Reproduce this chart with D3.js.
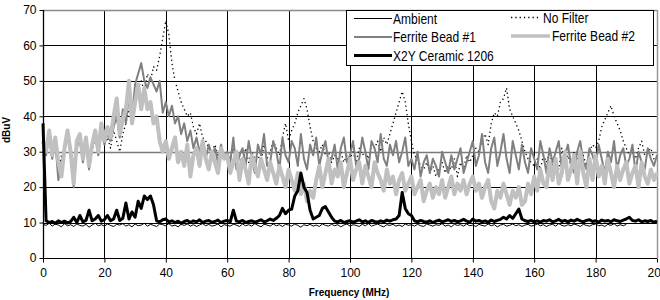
<!DOCTYPE html>
<html>
<head>
<meta charset="utf-8">
<script src="https://cdn.jsdelivr.net/npm/d3@7"></script>
<style>
  body { margin: 0; background: #fff; }
  svg text { font-family: Arial, "Liberation Sans", sans-serif; fill: #000; }
</style>
</head>
<body>
<svg id="chart" width="660" height="300"></svg>
<script>
"use strict";

// ==========  Data  ==========
// one sample per MHz, 0..200 MHz, levels in dBuV
var freqs = d3.range(0, 201)

var ambient = [
  9.5,9.2,9.8,9.0,9.6,9.3,8.8,9.7,9.1,9.4, 8.9,9.6,9.2,9.0,9.5,8.7,9.3,9.8,9.1,9.4,
  9.0,9.6,9.2,8.9,9.5,9.3,9.7,9.0,9.4,8.8, 9.6,9.1,9.3,9.8,9.0,9.5,9.2,8.9,9.6,9.4,
  9.1,9.7,9.0,9.3,8.8,9.5,9.2,9.6,9.0,9.4, 8.9,9.3,9.7,9.1,9.5,9.0,9.2,9.6,8.8,9.4,
  9.2,9.0,9.5,9.3,8.9,9.6,9.1,9.4,9.0,9.7, 9.2,8.8,9.5,9.3,9.0,9.6,9.1,9.4,8.9,9.5,
  9.3,9.0,9.6,9.2,8.7,9.4,9.1,9.5,9.0,9.3, 8.9,9.6,9.2,9.0,9.5,9.1,9.4,8.8,9.3,9.6,
  9.0,9.4,9.2,8.9,9.5,9.1,9.7,9.0,9.3,9.6, 9.1,8.8,9.4,9.2,9.5,9.0,9.3,8.9,9.6,9.2,
  9.4,9.0,9.5,9.1,8.9,9.6,9.3,9.0,9.4,9.2, 9.7,9.0,9.3,8.8,9.5,9.2,9.4,9.0,9.6,9.1,
  9.3,8.9,9.5,9.2,9.0,9.6,9.1,9.4,8.8,9.3, 9.5,9.0,9.2,9.6,9.1,9.4,8.9,9.3,9.5,9.0,
  9.2,9.6,9.1,9.4,8.9,9.3,9.5,9.0,9.7,9.2, 9.0,9.4,9.1,9.6,9.3,8.9,9.5,9.2,9.0,9.4,
  9.6,9.1,9.3,8.9,9.5,9.2,9.7,9.0,9.4,9.1, 9.5
]

var noFilter = [
  33,30,35,29,34,24,29,31,34,30, 22,32,33,28,32,26,30,34,31,35,
  32,34,31,36,33,30,35,38,42,40, 45,48,50,47,52,50,54,53,57,62,
  67,63,55,50,47,44,42,40,41,37, 35,38,34,33,31,30,32,29,31,28,
  30,28,31,27,29,26,31,27,30,28, 29,27,32,28,30,33,31,29,34,38,
  33,36,38,41,43,45,42,37,33,31, 30,32,29,30,27,29,28,30,27,29,
  28,30,27,31,29,30,28,32,31,33, 30,34,32,35,38,41,44,47,44,38,
  33,29,28,26,25,27,24,26,23,25, 27,24,26,25,28,23,27,25,29,27,
  29,31,30,33,35,32,38,41,40,44, 45,48,42,40,38,36,33,30,28,27,
  26,28,25,29,27,30,26,28,25,31, 27,29,26,30,28,27,29,26,30,32,
  31,33,37,39,41,43,40,38,36,33, 31,29,30,28,31,33,29,30,31,28, 29
]

var ferrite1 = [
  32,29,35,28,33,22,27,30,35,29, 20,31,34,27,33,25,31,35,29,36,
  32,35,33,37,40,34,42,38,46,40, 49,52,55,50,48,51,49,47,50,41,
  44,40,43,38,40,35,38,33,36,31, 34,30,33,28,32,29,31,27,32,28,
  30,27,34,25,29,31,26,33,28,24, 32,29,35,26,27,33,30,25,34,29,
  27,33,31,26,35,28,25,32,29,34, 26,30,33,27,28,32,25,31,34,27,
  29,33,26,28,34,30,25,33,31,27, 35,28,26,32,29,33,27,30,34,26,
  28,25,30,23,27,29,24,28,26,23, 30,27,24,29,25,28,31,24,27,30,
  33,26,29,35,27,24,31,34,26,30, 35,28,24,33,29,25,32,27,24,31,
  28,25,33,29,24,31,27,30,33,25, 29,32,26,24,30,33,27,25,31,29,
  26,32,28,24,30,27,33,25,29,31, 26,28,32,24,30,27,25,31,28,26, 29
]

var ferrite2 = [
  33,30,36,29,34,27,23,31,36,30, 21,33,35,28,34,26,32,36,30,38,
  33,37,34,40,45,35,39,42,50,38, 44,49,42,48,42,44,38,40,33,30,
  33,28,31,34,27,30,26,32,23,29, 31,26,33,28,25,30,27,24,31,28,
  29,24,27,30,22,28,25,21,29,26, 23,28,25,22,27,24,21,26,23,20,
  25,22,19,24,18,21,16,19,17,22, 26,20,24,28,21,25,23,27,20,24,
  28,22,25,27,21,26,23,20,27,24, 22,19,25,21,23,18,22,24,19,21,
  23,18,20,22,16,19,21,17,20,18, 22,17,20,23,18,21,19,22,18,21,
  23,19,21,17,20,22,16,14,19,17, 21,18,15,19,17,20,15,16,21,18,
  23,19,25,21,20,27,22,28,21,24, 30,22,25,29,21,30,24,20,28,22,
  29,23,26,21,28,24,20,26,22,25, 27,21,24,26,20,27,23,21,25,22, 24
]

var x2y = [
  38,10.5,10,10.3,9.8,10.5,10,10.4,9.9,10.3, 11.5,10,12,10.2,10.6,13.5,10.5,11,12,10.4,
  10.8,12,10.5,11,13.5,10.6,11.2,15.5,11,13, 11.5,16,14,17.5,16.5,17.5,15,10.5,10.2,10.8,
  11,10.2,10.5,10,10.4,9.8,10.3,10.6,10,10.5, 10.2,10.8,10,10.4,10.6,10.1,10.3,10.7,10,10.4,
  10.6,10.2,13.5,10.4,10.2,10.6,10,10.3,10.5,10.1, 10.4,10.8,10.2,10.5,11,10.6,11.2,12,14,12.5,
  13.5,13.8,17.5,19,24,20,18.5,13.5,11,11.5, 12,14,14.5,13,11.5,10.4,10.2,10.6,10,10.3,
  10.5,10.1,10.4,10.8,10.2,10.5,10,10.6,10.3,10.1, 10.5,10.2,10.7,10.4,10.8,11,12,18.5,14,12.5,
  12,10.5,10.2,10.6,10.3,10.1,10.5,10,10.4,10.7, 10.2,10.5,10.8,10.3,10.6,10.2,10.5,10.9,10.4,10.1,
  11,10.4,10.6,10.2,10.5,10.1,10.7,10.3,10.6,10.9, 11.5,11,12,11.2,12.5,13.8,11,10.5,10.3,10.6,
  10.2,10.5,10.1,10.6,10.4,10.8,10.2,10.5,10.9,10.3, 10.6,10.2,10.7,10.4,10.9,10.5,10.2,10.6,10.8,10.3,
  10.5,10.1,10.7,10.4,10.6,10.2,10.8,10.5,10.3,10.7, 11,11.5,10.6,10.4,10.8,10.2,10.5,10.3,10.6,10.1, 10.4
]

var seriesNames = ["Ambient", "No Filter", "Ferrite Bead #1", "Ferrite Bead #2", "X2Y Ceramic 1206"]
var seriesValues = [ambient, noFilter, ferrite1, ferrite2, x2y]
var yTicks = [0, 10, 20, 30, 40, 50, 60, 70]
var xTicks = [0, 20, 40, 60, 80, 100, 120, 140, 160, 180, 200]
var xTitle = "Frequency (MHz)"
var yTitle = "dBuV"

// ==========  Styles  ==========
var seriesStyle = {
  "Ambient":          { color: "#000",    width: 1,   dash: null },
  "No Filter":        { color: "#000",    width: 1.3, dash: "1.3,3" },
  "Ferrite Bead #1":  { color: "#808080", width: 2,   dash: null },
  "Ferrite Bead #2":  { color: "#c0c0c0", width: 4,   dash: null },
  "X2Y Ceramic 1206": { color: "#000",    width: 3,   dash: null }
}

// ==========  Chart  ==========
var svg    = d3.select('#chart')
var plot   = { left: 43, right: 657, top: 10, bottom: 258 }
var xScale = d3.scaleLinear().domain([0, 200]).range([plot.left, plot.right])
var yScale = d3.scaleLinear().domain([0, 70]).range([plot.bottom, plot.top])

// gridlines (the 30 line and the frame came out grey in the scan)
var grid = svg.append('g')
grid.selectAll('line.h').data(yTicks.filter(function(t) { return t > 0 && t < 70 }))
  .enter().append('line')
    .attr('x1', plot.left).attr('x2', plot.right)
    .attr('y1', function(d) { return Math.round(yScale(d)) + 0.5 })
    .attr('y2', function(d) { return Math.round(yScale(d)) + 0.5 })
    .attr('stroke', function(d) { return d == 30 ? '#7a7a7a' : '#000' })
    .attr('stroke-width', function(d) { return d == 30 ? 1.6 : 1 })
grid.selectAll('line.v').data(xTicks.filter(function(t) { return t > 0 && t < 200 }))
  .enter().append('line')
    .attr('y1', plot.top).attr('y2', plot.bottom)
    .attr('x1', function(d) { return Math.round(xScale(d)) + 0.5 })
    .attr('x2', function(d) { return Math.round(xScale(d)) + 0.5 })
    .attr('stroke', '#000')
grid.append('line')
    .attr('x1', plot.left).attr('x2', plot.right)
    .attr('y1', plot.top + 0.5).attr('y2', plot.top + 0.5)
    .attr('stroke', '#8a8a8a').attr('stroke-width', 1.5)
grid.append('line')
    .attr('x1', plot.right + 0.5).attr('x2', plot.right + 0.5)
    .attr('y1', plot.top).attr('y2', plot.bottom)
    .attr('stroke', '#999').attr('stroke-width', 1.5)

// series, drawn in Excel order so the later ones sit on top
var line = d3.line()
  .x(function(d, i) { return xScale(freqs[i]) })
  .y(function(d) { return yScale(d) })
svg.append('g').selectAll('path')
  .data(seriesNames)
  .enter().append('path')
    .attr('fill', 'none')
    .attr('stroke', function(name) { return seriesStyle[name].color })
    .attr('stroke-width', function(name) { return seriesStyle[name].width })
    .attr('stroke-dasharray', function(name) { return seriesStyle[name].dash })
    .attr('stroke-linejoin', 'round')
    .attr('d', function(name, i) { return line(seriesValues[i]) })

// axes
var xAxis = svg.append('g')
  .attr('transform', 'translate(0,' + (plot.bottom + 0.5) + ')')
  .call(d3.axisBottom(xScale).tickValues(xTicks).tickSize(4).tickPadding(6).tickFormat(d3.format('d')))
var yAxis = svg.append('g')
  .attr('transform', 'translate(' + (plot.left + 0.5) + ',0)')
  .call(d3.axisLeft(yScale).tickValues(yTicks).tickSize(4).tickPadding(3).tickFormat(d3.format('d')))
xAxis.select('.domain').attr('stroke', '#000').attr('d', 'M' + (plot.left) + ',0H' + plot.right)
yAxis.select('.domain').attr('stroke', '#000').attr('stroke-width', 1.3)
  .attr('d', 'M0,' + plot.top + 'V' + plot.bottom)
xAxis.selectAll('.tick line').attr('stroke', '#000')
yAxis.selectAll('.tick line').attr('stroke', '#000')
xAxis.selectAll('.tick text').attr('font-size', 12).attr('font-family', 'Arial, "Liberation Sans", sans-serif').attr('fill', '#000')
yAxis.selectAll('.tick text').attr('font-size', 12).attr('font-family', 'Arial, "Liberation Sans", sans-serif').attr('fill', '#000')

svg.append('text')
  .attr('x', 349).attr('y', 296)
  .attr('text-anchor', 'middle')
  .attr('font-size', 10).attr('font-weight', 'bold')
  .text(xTitle)
svg.append('text')
  .attr('transform', 'translate(10,130) rotate(-90)')
  .attr('text-anchor', 'middle')
  .attr('font-size', 10).attr('font-weight', 'bold')
  .text(yTitle)

// ==========  Legend  ==========
var legend = svg.append('g')
legend.append('rect')
  .attr('x', 346.5).attr('y', 10.5).attr('width', 307).attr('height', 55)
  .attr('fill', '#fff').attr('stroke', '#000')
// row-major, two columns like the Excel legend
var legendSlots = [
  { x1: 354, x2: 392, tx: 393, y: 18.5 },
  { x1: 511, x2: 540, tx: 543, y: 17.5 },
  { x1: 354, x2: 392, tx: 393, y: 37 },
  { x1: 511, x2: 550, tx: 552, y: 36 },
  { x1: 354, x2: 392, tx: 393, y: 55.5 }
]
seriesNames.forEach(function(name, i) {
  var slot  = legendSlots[i]
  var style = seriesStyle[name]
  legend.append('line')
    .attr('x1', slot.x1).attr('x2', slot.x2)
    .attr('y1', slot.y).attr('y2', slot.y)
    .attr('stroke', style.color)
    .attr('stroke-width', Math.min(style.width, 3.5))
    .attr('stroke-dasharray', style.dash)
  legend.append('text')
    .attr('transform', 'translate(' + slot.tx + ',' + (Math.round(slot.y) + 5) + ') scale(0.86,1)')
    .attr('font-size', 14)
    .text(name)
})
</script>
</body>
</html>
